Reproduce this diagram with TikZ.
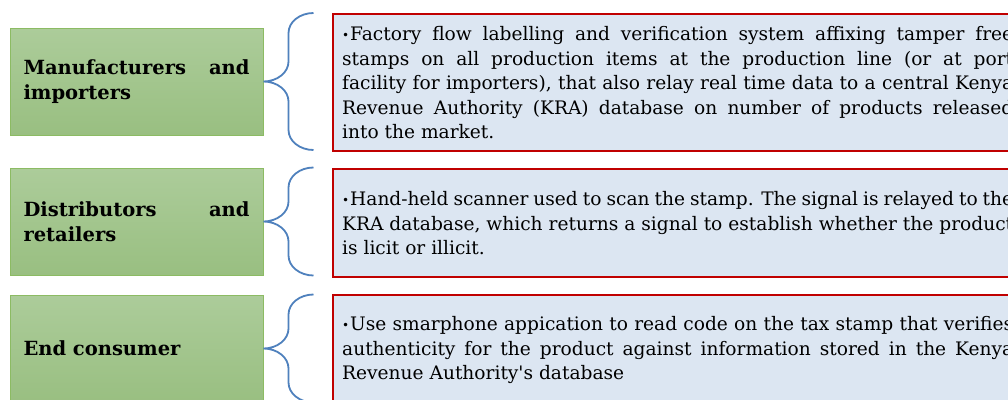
\documentclass[tikz,border=0pt]{standalone}
\usepackage{fontspec}
\setmainfont{DejaVu Serif}
\definecolor{gtop}{RGB}{172,204,154}
\definecolor{gbot}{RGB}{153,191,129}
\definecolor{gline}{RGB}{140,187,99}
\definecolor{rline}{RGB}{192,0,0}
\definecolor{bfill}{RGB}{220,230,242}
\definecolor{brc}{RGB}{79,129,189}
\tikzset{
  greenbox/.style={draw=gline, line width=1pt, top color=gtop, bottom color=gbot,
    minimum width=253pt, minimum height=107pt, inner sep=0pt,
    text width=226pt, align=justify, font=\fontsize{19.5}{24.5}\selectfont\bfseries},
  redbox/.style={draw=rline, line width=2.4pt, fill=bfill, anchor=north west,
    minimum width=689pt, inner xsep=9pt, inner ysep=0pt,
    text width=671pt, align=justify, font=\fontsize{18.6}{24.5}\selectfont},
  bracestyle/.style={draw=brc, line width=1.8pt},
  pics/lbrace/.style={code={
    \path[bracestyle] (50,-#1) .. controls (36.2,-#1) and (25,{-#1+9}) .. (25,{-#1+20})
      -- (25,-20) .. controls (25,-9) and (13.8,0) .. (0,0)
      .. controls (13.8,0) and (25,9) .. (25,20)
      -- (25,{#1-20}) .. controls (25,{#1-9}) and (36.2,#1) .. (50,#1);
  }}
}
\newcommand{\bul}{\makebox[8pt][l]{\raisebox{1pt}{\fontsize{12}{12}\selectfont\textbullet}}}
\newcommand{\hang}{\hangindent=8pt\hangafter=1\noindent}
\begin{document}
\begin{tikzpicture}[x=1pt,y=-1pt]
\useasboundingbox (0,0) rectangle (1008,399);
\clip (0,0) rectangle (1008,399);
\fill[white] (0,0) rectangle (1008,399);

\node[greenbox] (g1) at (136.5,81.5) {Manufacturers and\linebreak importers};
\node[greenbox] (g2) at (136.5,221.5) {Distributors and\linebreak retailers};
\node[greenbox] (g3) at (136.5,348.5) {End consumer};

\node[redbox, minimum height=137pt] (r1) at (332,13) {\hang\bul Factory flow labelling and verification system affixing tamper free\linebreak stamps on all production items at the production line (or at port\linebreak facility for importers), that also relay real time data to a central Kenya\linebreak Revenue Authority (KRA) database on number of products released\linebreak into the market.};
\node[redbox, minimum height=108pt] (r2) at (332,168) {\hang\bul Hand-held scanner used to scan the stamp. The signal is relayed to the\linebreak KRA database, which returns a signal to establish whether the product\linebreak is licit or illicit.};
\node[redbox, minimum height=110pt] (r3) at (332,294) {\hang\bul Use smarphone appication to read code on the tax stamp that verifies\linebreak authenticity for the product against information stored in the Kenya\linebreak Revenue Authority\textquotesingle s database};

\pic at (g1.east) {lbrace=68.5};
\pic at (g2.east) {lbrace=54};
\pic at (g3.east) {lbrace=54};
\end{tikzpicture}
\end{document}
